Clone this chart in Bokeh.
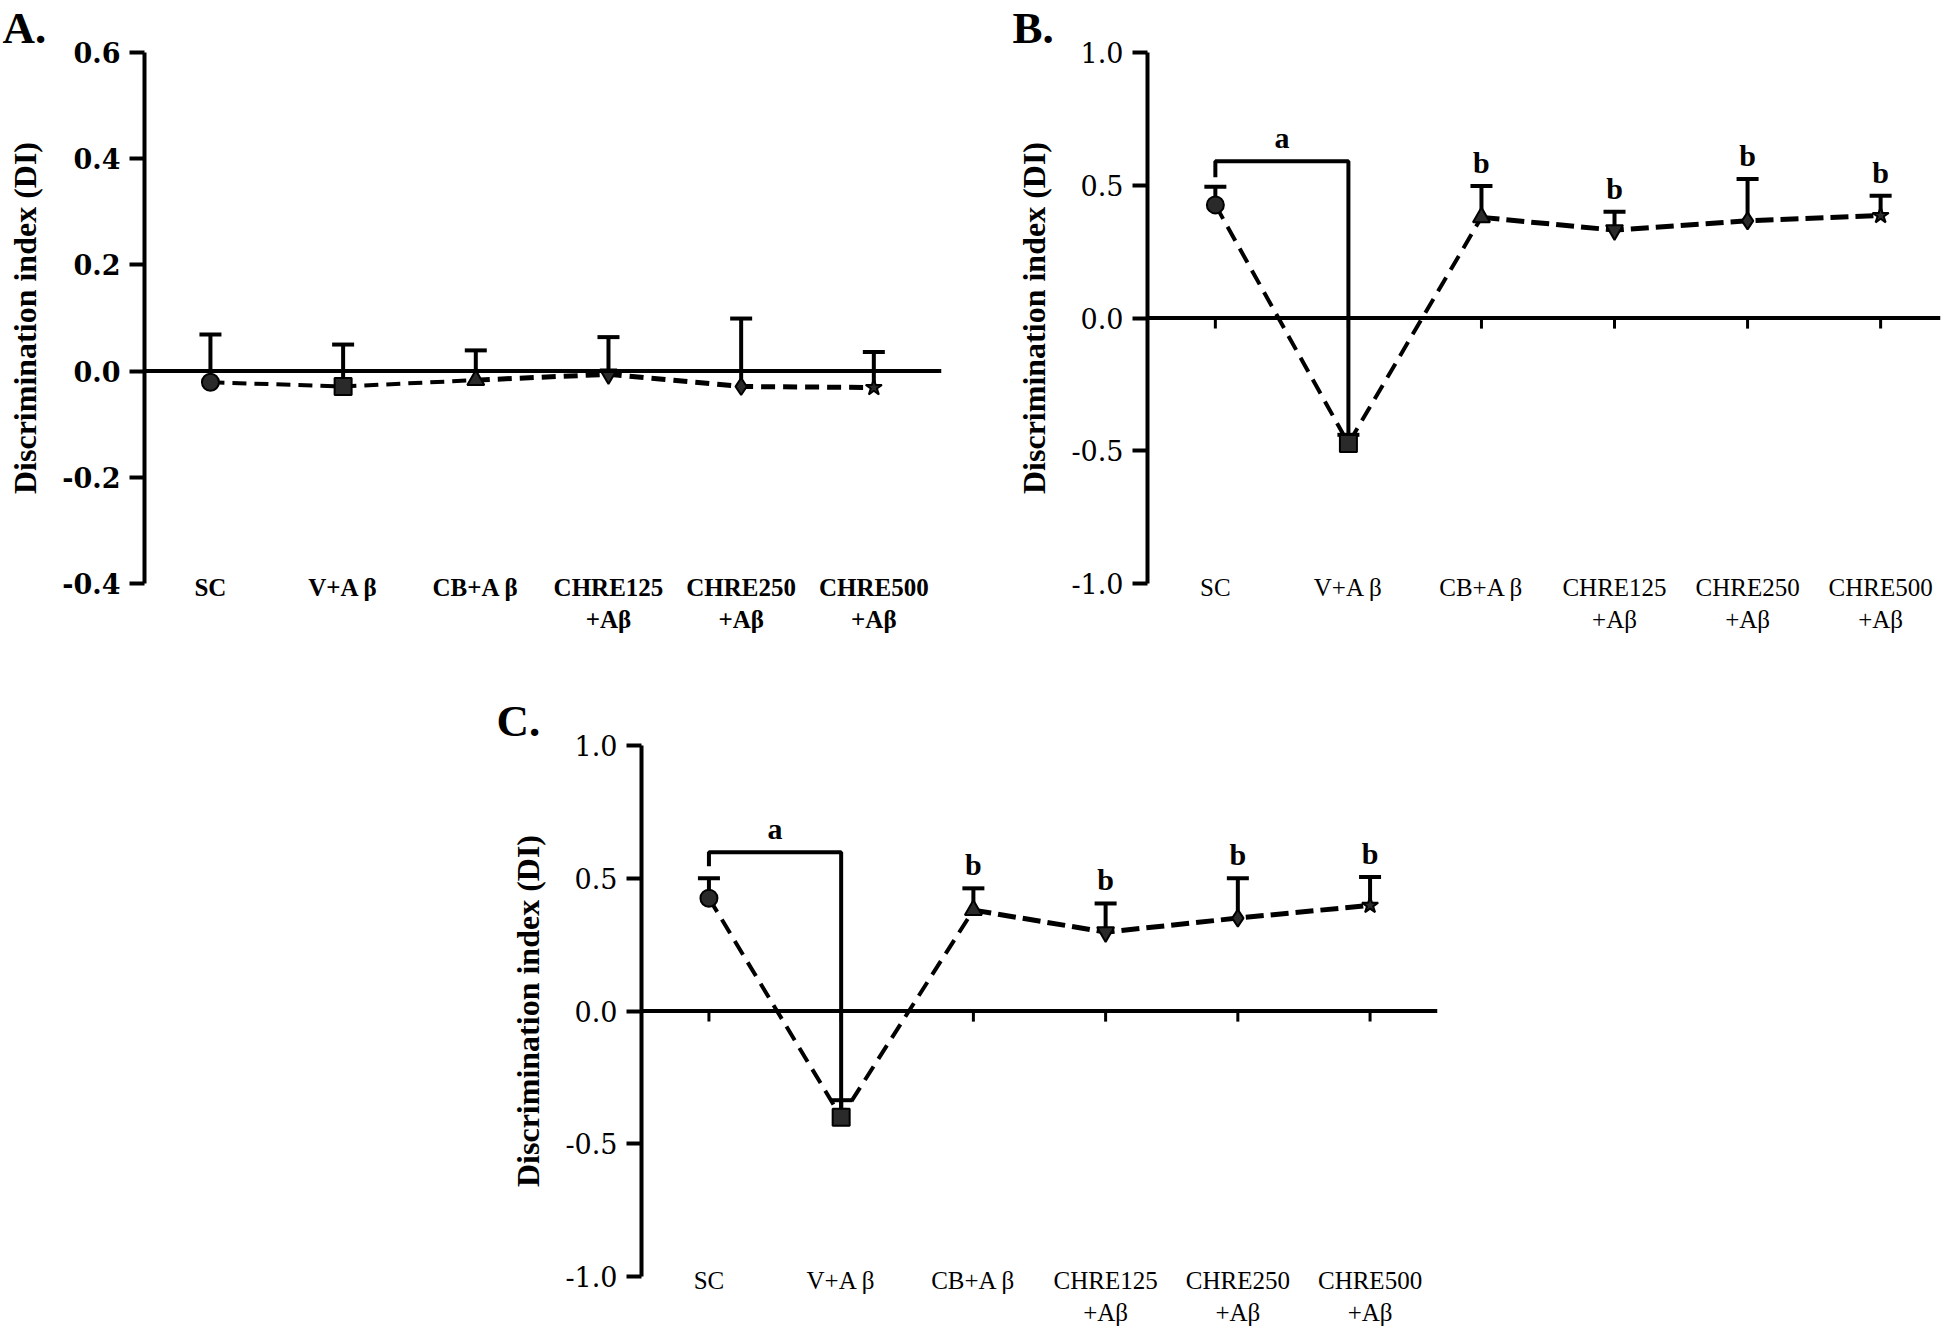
from bokeh.plotting import figure
from bokeh.models import (Span, Whisker, TeeHead, ColumnDataSource, FixedTicker,
                          PrintfTickFormatter, Range1d, Spacer)
from bokeh.layouts import row, column
from bokeh.core.properties import value
from bokeh.embed import file_html
from bokeh.resources import INLINE

# ---------------- data ----------------
categories = ["SC", "V+A β", "CB+A β", "CHRE125\n+Aβ", "CHRE250\n+Aβ", "CHRE500\n+Aβ"]
markers = ["circle", "square", "triangle", "inverted_triangle", "diamond", "star"]
idx = [0, 1, 2, 3, 4, 5]

a_mean = [-0.021, -0.029, -0.017, -0.006, -0.029, -0.031]
a_top = [0.069, 0.050, 0.039, 0.064, 0.099, 0.036]

b_mean = [0.426, -0.473, 0.379, 0.331, 0.366, 0.386]
b_top = [0.494, -0.440, 0.497, 0.400, 0.524, 0.460]

c_mean = [0.425, -0.400, 0.380, 0.297, 0.350, 0.398]
c_top = [0.500, -0.336, 0.462, 0.405, 0.500, 0.505]

a_ticks = [-0.4, -0.2, 0.0, 0.2, 0.4, 0.6]
bc_ticks = [-1.0, -0.5, 0.0, 0.5, 1.0]

b_bracket = [0.590, 0.530]   # bracket level, left-leg bottom
c_bracket = [0.598, 0.545]
sig_letters = ["a", "b", "b", "b", "b"]

FONT = "Liberation Serif"
TICKFONT = "DejaVu Serif"


def make_panel(letter, letter_offset, mean, top, ticks, xr, width, height, borders, bold,
               bracket=None, xticks=False, dash1="16 9", dash2="18 7"):
    bl, br, bt, bb = borders
    p = figure(width=width, height=height, x_range=Range1d(*xr),
               y_range=Range1d(ticks[0], ticks[-1]),
               output_backend="svg", toolbar_location=None,
               min_border_left=bl, min_border_right=br,
               min_border_top=bt, min_border_bottom=bb,
               title=letter)
    p.title.align = "left"
    p.title.offset = letter_offset
    p.title.standoff = 0
    p.title.text_font = FONT
    p.title.text_font_size = "45px"
    p.title.text_font_style = "bold"
    p.title.text_color = "black"
    p.outline_line_color = None
    p.grid.visible = False
    style = "bold" if bold else "normal"

    ya = p.yaxis[0]
    ya.ticker = FixedTicker(ticks=ticks)
    ya.formatter = PrintfTickFormatter(format="%.1f")
    ya.axis_line_width = 4
    ya.axis_line_color = "black"
    ya.major_tick_line_width = 4
    ya.major_tick_out = 15
    ya.major_tick_in = 0
    ya.minor_tick_line_color = None
    ya.major_label_text_font = TICKFONT
    ya.major_label_text_font_size = "27px"
    ya.major_label_text_font_style = style
    ya.major_label_text_color = "black"
    ya.major_label_standoff = 9
    ya.axis_label = "Discrimination index (DI)"
    ya.axis_label_text_font = FONT
    ya.axis_label_text_font_size = "32px"
    ya.axis_label_text_font_style = "bold"
    ya.axis_label_text_color = "black"
    ya.axis_label_standoff = 16

    xa = p.xaxis[0]
    xa.ticker = FixedTicker(ticks=idx)
    xa.major_label_overrides = {i: c for i, c in zip(idx, categories)}
    xa.axis_line_color = None
    xa.major_tick_line_color = None
    xa.minor_tick_line_color = None
    xa.major_label_standoff = -16
    xa.major_label_text_font = FONT
    xa.major_label_text_font_size = "25px"
    xa.major_label_text_font_style = style
    xa.major_label_text_color = "black"

    p.add_layout(Span(location=0, dimension="width", line_color="black", line_width=4))

    if xticks:
        p.segment(x0=idx, y0=[0] * len(idx), x1=idx, y1=[-0.04] * len(idx),
                  line_color="black", line_width=3)

    src = ColumnDataSource(dict(x=idx, mean=mean, top=top, marker=markers))
    p.add_layout(Whisker(source=src, base="x", lower="mean", upper="top",
                         line_width=4, line_color="black",
                         upper_head=TeeHead(size=22, line_width=4, line_color="black"),
                         lower_head=None))

    if bracket is not None:
        p.line(x=[idx[0], idx[0], idx[1], idx[1]],
               y=[bracket[1], bracket[0], bracket[0], mean[1]],
               line_color="black", line_width=4)

    p.line(x=idx[:3], y=mean[:3], line_color="black", line_width=4, line_dash=dash1)
    p.line(x=idx[2:], y=mean[2:], line_color="black", line_width=5, line_dash=dash2)

    p.scatter(x="x", y="mean", marker="marker", source=src, size=17,
              fill_color="#2a2a2a", line_color="black", line_width=2)

    if bracket is not None:
        lx = [(idx[0] + idx[1]) / 2] + idx[2:]
        ly = [bracket[0]] + top[2:]
        p.text(x=lx, y=ly, text=sig_letters, text_font=value(FONT),
               text_font_size="30px", text_font_style="bold", text_color="black",
               text_align="center", text_baseline="bottom", y_offset=-7)
    return p


pA = make_panel("A.", -142, a_mean, a_top, a_ticks, (-0.497, 5.51), 1000, 668,
                (144, 59, 51, 85), True, dash1="14 8", dash2="14 8")
pB = make_panel("B.", -135, b_mean, b_top, bc_ticks, (-0.51, 5.45), 942, 668,
                (147, 2, 51, 85), False, bracket=b_bracket, xticks=True)
pC = make_panel("C.", -145, c_mean, c_top, bc_ticks, (-0.51, 5.51), 990, 660,
                (151, 43, 77, 47), False, bracket=c_bracket, xticks=True)

layout = column(row(pA, pB), row(Spacer(width=490, height=660), pC))

open("out.html", "w").write(file_html(layout, INLINE))
